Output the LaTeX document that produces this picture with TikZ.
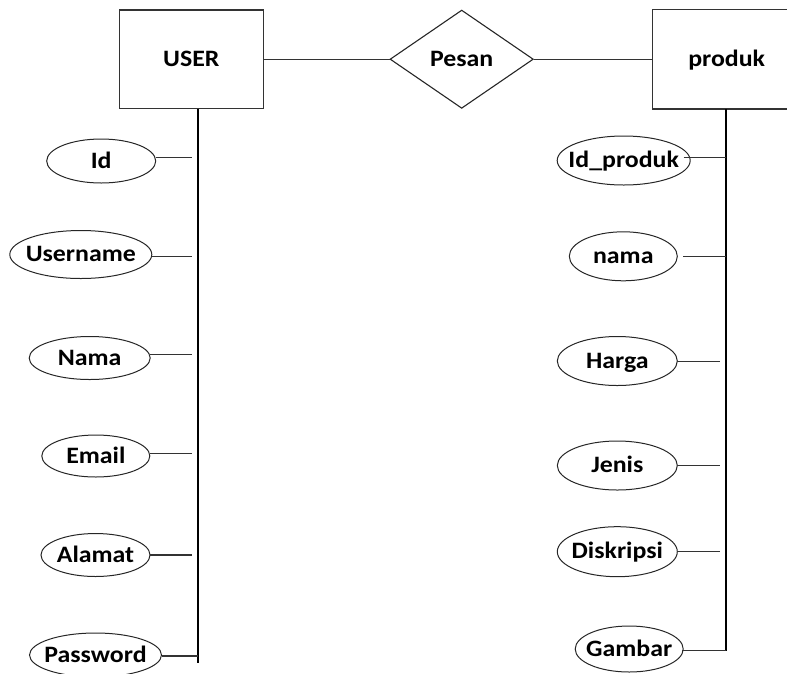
\documentclass[tikz,border=0pt]{standalone}
\usepackage{fontspec}
\setmainfont{Carlito}[FakeStretch=1.1]
\usetikzlibrary{shapes.geometric}

\begin{document}
\begin{tikzpicture}[x=1pt,y=-1pt,
  lbl/.style={font=\bfseries\fontsize{23.5}{23.5}\selectfont,
    text height=14.5pt,text depth=0pt},
  entity/.style={lbl,draw=black!80,line width=1.3pt,rectangle,inner sep=0pt,
    minimum height=98.3pt},
  openentity/.style={draw=black!80,line width=1.3pt},
  relation/.style={lbl,draw=black!85,line width=1.1pt,diamond,inner sep=0pt,
    minimum width=143.3pt,minimum height=98.3pt},
  attr/.style={lbl,draw=black!85,line width=1pt,ellipse,inner xsep=-20pt,
    inner ysep=-4pt,outer sep=0pt},
  link/.style={draw=black!80,line width=1.3pt},
  spine/.style={draw=black,line width=1.6pt}]

\useasboundingbox (0,0) rectangle (787,673);
\clip (0,0) rectangle (787,673);

% entities and the relationship
\node[entity,minimum width=144pt] (user) at (191.3,59.2) {USER};
\node[relation] (pesan) at (461.7,59.2) {Pesan};
% the produk box runs past the right edge, so only three sides show
\node[entity,draw=none,minimum width=146.8pt] (produk) at (726.7,59.2) {produk};
\draw[openentity] ([xshift=30pt]produk.north east) -- (produk.north west)
  -- (produk.south west) -- ([xshift=30pt]produk.south east);

\draw[link] (user.east) -- (pesan.west);
\draw[link] (pesan.east) -- (produk.west);

% attributes of USER
\node[attr,minimum width=109pt,minimum height=44pt] (id) at (101.2,161) {Id};
\node[attr,minimum width=142pt,minimum height=48pt] (username) at (80.8,254.5) {Username};
\node[attr,minimum width=121pt,minimum height=43pt] (nama) at (89.7,358) {Nama};
\node[attr,minimum width=108pt,minimum height=42pt] (email) at (95.8,456) {Email};
\node[attr,minimum width=109pt,minimum height=43pt] (alamat) at (95.5,555) {Alamat};
\node[attr,minimum width=132pt,minimum height=44pt] (password) at (95.5,655) {Password};

\coordinate (uTop) at (197.7,108.3);
\coordinate (uEnd) at (197.7,662.7);
\coordinate (uId) at (192,157.7);
\coordinate (uUsername) at (192,256.7);
\coordinate (uNama) at (192,354.3);
\coordinate (uEmail) at (192,453.3);
\coordinate (uAlamat) at (192,555);
\coordinate (uPassword) at (197.7,656);

\draw[spine] (user.south -| uTop) -- (uEnd);
\draw[link] (id.east |- uId) -- (uId);
\draw[link] (username.east |- uUsername) -- (uUsername);
\draw[link] (nama.east |- uNama) -- (uNama);
\draw[link] (email.east |- uEmail) -- (uEmail);
\draw[link] (alamat.east |- uAlamat) -- (uAlamat);
\draw[link] (password.east |- uPassword) -- (uPassword);

% attributes of produk
\node[attr,minimum width=133pt,minimum height=49pt] (idproduk) at (623.7,160.5) {Id\_produk};
\node[attr,minimum width=108pt,minimum height=49pt] (pnama) at (623.3,256.3) {nama};
\node[attr,minimum width=120pt,minimum height=49pt] (harga) at (617.3,361) {Harga};
\node[attr,minimum width=120pt,minimum height=49pt] (jenis) at (617.3,465.5) {Jenis};
\node[attr,minimum width=120pt,minimum height=50pt] (diskripsi) at (617.3,551.7) {Diskripsi};
\node[attr,minimum width=108pt,minimum height=46pt] (gambar) at (629.2,649) {Gambar};

\coordinate (pTop) at (725.7,108.3);
\coordinate (pIdproduk) at (725.7,157.7);
\coordinate (pNama) at (725.7,256.7);
\coordinate (pHarga) at (720,361.7);
\coordinate (pJenis) at (720,465.7);
\coordinate (pDiskripsi) at (720,551.7);
\coordinate (pGambar) at (725.7,650.7);

\draw[spine] (produk.south -| pTop) -- (pGambar);
\draw[link] ([xshift=-6.7pt]idproduk.east |- pIdproduk) -- (pIdproduk);
\draw[link] ([xshift=6pt]pnama.east |- pNama) -- (pNama);
\draw[link] (harga.east |- pHarga) -- (pHarga);
\draw[link] (jenis.east |- pJenis) -- (pJenis);
\draw[link] (diskripsi.east |- pDiskripsi) -- (pDiskripsi);
\draw[link] ([xshift=-1pt]gambar.east |- pGambar) -- (pGambar);

\end{tikzpicture}
\end{document}
